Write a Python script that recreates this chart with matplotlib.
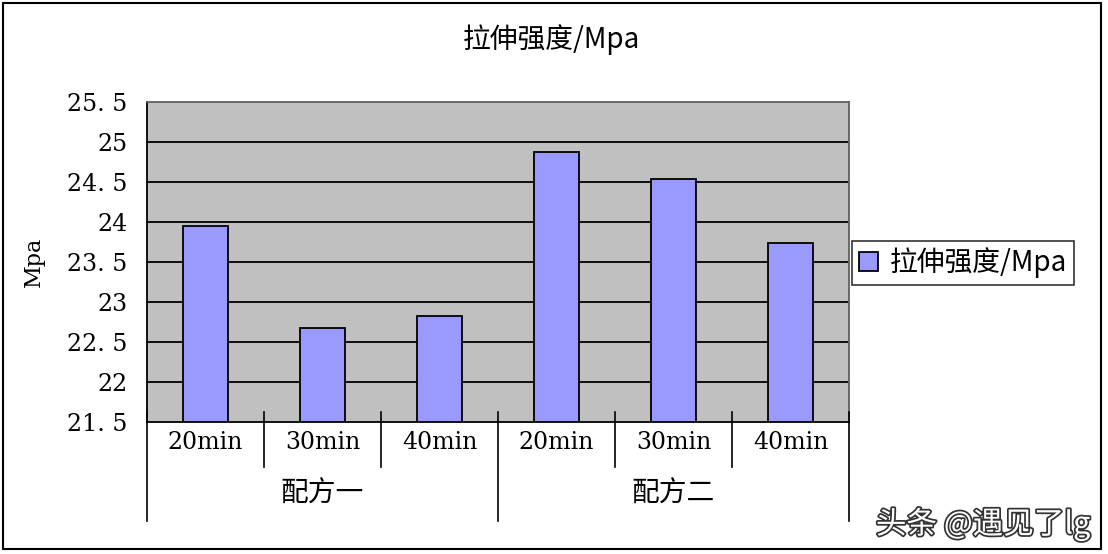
import matplotlib
matplotlib.use("Agg")
import matplotlib.pyplot as plt
from matplotlib.patches import Rectangle
import matplotlib.patheffects as pe

categories = ["20min", "30min", "40min", "20min", "30min", "40min"]
groups = ["配方一", "配方二"]
values = [23.95, 22.67, 22.82, 24.87, 24.54, 23.74]
yticks = [21.5, 22, 22.5, 23, 23.5, 24, 24.5, 25, 25.5]
ytick_labels = ["21. 5", "22", "22. 5", "23", "23. 5", "24", "24. 5", "25", "25. 5"]
series_name = "拉伸强度/Mpa"

plt.rcParams['font.family'] = ['DejaVu Serif', 'Noto Sans CJK SC']
cjk = ['Noto Sans CJK SC', 'DejaVu Sans']

fig = plt.figure(figsize=(11.08, 5.54), dpi=100)
fig.patch.set_facecolor('white')
ax = fig.add_axes([147/1108, 1-422/554, 702/1108, 320/554])
ax.set_facecolor('#C0C0C0')

x = list(range(len(values)))
ax.bar(x, [v - 21.5 for v in values], bottom=21.5, width=0.39,
       color='#9999FF', edgecolor='black', linewidth=1.3, zorder=3,
       label=series_name)

ax.set_ylim(21.5, 25.5)
ax.set_xlim(-0.5, len(values) - 0.5)
ax.set_yticks(yticks)
ax.set_yticklabels(ytick_labels, fontsize=17)
ax.tick_params(axis='y', length=0, pad=14)
ax.set_xticks([])
for y in yticks[1:-1]:
    ax.axhline(y, color='black', linewidth=1.3, zorder=1)
for s in ax.spines.values():
    s.set_color('black')
    s.set_linewidth(1.3)
ax.spines['right'].set_color('#606060')
ax.spines['top'].set_color('#606060')

ax.set_ylabel("Mpa", fontsize=16, labelpad=16)

tr = ax.get_xaxis_transform()
for i, c in enumerate(categories):
    ax.text(i, -0.065, c, transform=tr, ha='center', va='center', fontsize=17)
for b in [0.5, 1.5, 3.5, 4.5]:
    ax.plot([b, b], [0.03, -0.14], transform=tr, color='black', linewidth=1.2,
            clip_on=False, zorder=4)
for b in [-0.5, 2.5, 5.5]:
    ax.plot([b, b], [0.03, -0.31], transform=tr, color='black', linewidth=1.2,
            clip_on=False, zorder=4)
for gi, g in enumerate(groups):
    ax.text(gi * 3 + 1, -0.225, g, transform=tr, ha='center', va='center',
            fontsize=20, family=cjk)

fig.text(0.498, 1 - 40/554, series_name, ha='center', va='center',
         fontsize=20, family=cjk)

leg = fig.legend(loc='center left', bbox_to_anchor=(852/1108, 1 - 263/554),
                 frameon=True, fancybox=False, edgecolor='black',
                 prop={'family': cjk, 'size': 20}, handlelength=0.7,
                 handleheight=0.7, handletextpad=0.4, borderpad=0.25,
                 borderaxespad=0)
leg.get_frame().set_linewidth(1.2)

fig.text(1090/1108, 1 - 524/554, "头条 @遇见了lg", ha='right', va='center',
         fontsize=22, family=cjk, color='white',
         path_effects=[pe.withStroke(linewidth=2.5, foreground='#333333')])

fig.patches.append(Rectangle((3/1108, 5/554), 1098/1108, 546/554,
                             transform=fig.transFigure, fill=False,
                             edgecolor='black', linewidth=1.5))

fig.savefig("out.png", dpi=100)
